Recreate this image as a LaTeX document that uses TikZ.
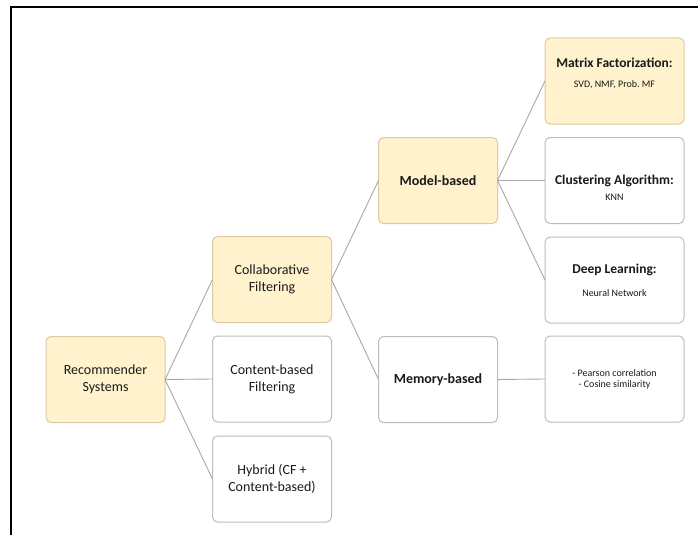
\documentclass[tikz,border=0pt]{standalone}
\usepackage{fontspec}
\setmainfont{Carlito}
\definecolor{boxyellow}{HTML}{FFF2CC}
\definecolor{yellowedge}{HTML}{D9CBA6}
\definecolor{greyedge}{HTML}{BDBDBD}
\definecolor{linkgrey}{HTML}{A8A8A8}
\definecolor{textdark}{HTML}{1A1A1A}
\tikzset{
  basebox/.style={draw, rounded corners=5pt, line width=1pt, inner sep=0pt, outer sep=0pt,
    align=center, text=textdark},
  midbox/.style={basebox, minimum width=119pt, minimum height=86pt},
  leafbox/.style={basebox, minimum width=139pt, minimum height=86pt},
  yel/.style={fill=boxyellow, draw=yellowedge},
  wht/.style={fill=white, draw=greyedge},
  link/.style={draw=linkgrey, line width=0.9pt},
  lvlone/.style={font=\fontsize{14}{17}\selectfont},
  lvltwo/.style={font=\bfseries\fontsize{14}{17}\selectfont},
}
\newcommand{\leaftitle}[1]{{\bfseries\fontsize{13.5}{15}\selectfont #1}}
\newcommand{\leafsub}[1]{{\fontsize{10}{12}\selectfont #1}}
\begin{document}
\begin{tikzpicture}[x=1pt,y=-1pt]
\useasboundingbox (0,0) rectangle (698,535);
\fill[white] (0,0) rectangle (698,535);
\draw[line width=2pt, black] (11,535) -- (11,7) -- (698,7);

\node[midbox,yel,lvlone] (rs) at (105.5,379.5) {Recommender\\Systems};
\node[midbox,yel,lvlone] (cf) at (272,279.5) {Collaborative\\Filtering};
\node[midbox,wht,lvlone] (cb) at (272,379) {Content-based\\Filtering};
\node[midbox,wht,lvlone] (hy) at (272,479) {Hybrid (CF +\\Content-based)};
\node[midbox,yel,lvltwo] (mb) at (438,180.5) {Model-based};
\node[midbox,wht,lvltwo] (mem) at (438,379.5) {Memory-based};
\node[leafbox,yel] (mf) at (614.5,81) {\leaftitle{Matrix Factorization:}\\[8pt]\leafsub{SVD, NMF, Prob.\ MF}\\[4pt]};
\node[leafbox,wht] (cl) at (614.5,180.5) {\leaftitle{\rule{0pt}{24pt}Clustering Algorithm:}\\[4pt]\leafsub{KNN}};
\node[leafbox,wht] (dl) at (614.5,280) {\leaftitle{Deep Learning:}\\[11pt]\leafsub{Neural Network}};
\node[leafbox,wht] (pc) at (614.5,379) {\leafsub{- Pearson correlation}\\[-1pt]\leafsub{- Cosine similarity}};

\draw[link] (rs.east) -- (cf.west);
\draw[link] (rs.east) -- (cb.west);
\draw[link] (rs.east) -- (hy.west);
\draw[link] (cf.east) -- (mb.west);
\draw[link] (cf.east) -- (mem.west);
\draw[link] (mb.east) -- (mf.west);
\draw[link] (mb.east) -- (cl.west);
\draw[link] (mb.east) -- (dl.west);
\draw[link] (mem.east) -- (pc.west);
\end{tikzpicture}
\end{document}
